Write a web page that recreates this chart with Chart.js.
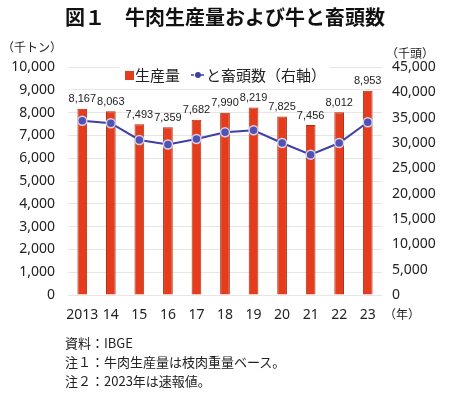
<!DOCTYPE html>
<html lang="ja">
<head>
    <meta charset="UTF-8">
    <title>牛肉生産量および牛と畜頭数</title>
    <script src="https://cdn.jsdelivr.net/npm/chart.js@4.4.1/dist/chart.umd.min.js"></script>
    <style>
        body {
            margin: 0;
            width: 450px;
            height: 397px;
            background: #ffffff;
            font-family: 'Noto Sans CJK JP', 'Noto Sans', sans-serif;
            position: relative;
            overflow: hidden;
        }
        .title {
            position: absolute;
            top: 4px;
            left: 0;
            width: 450px;
            text-align: center;
            font-size: 20px;
            font-weight: bold;
            color: #111;
            line-height: 26px;
        }
        .chart-box {
            position: absolute;
            left: 0;
            top: 0;
            width: 450px;
            height: 397px;
        }
        .notes {
            position: absolute;
            left: 65px;
            top: 333px;
            font-size: 13px;
            line-height: 19px;
            color: #222;
        }
    </style>
</head>
<body>
    <div class="chart-box"><canvas id="beefChart"></canvas></div>
    <div class="title">図１　牛肉生産量および牛と畜頭数</div>
    <div class="notes">
        <div>資料：IBGE</div>
        <div>注１：牛肉生産量は枝肉重量ベース。</div>
        <div>注２：2023年は速報値。</div>
    </div>

    <script>
        // data
        const years = ['2013', '14', '15', '16', '17', '18', '19', '20', '21', '22', '23'];
        const production = [8167, 8063, 7493, 7359, 7682, 7990, 8219, 7825, 7456, 8012, 8953];   // 千トン
        const slaughter = [34400, 33900, 30600, 29700, 30800, 32100, 32500, 30000, 27700, 30000, 34100]; // 千頭

        const leftTicks = { max: 10000, step: 1000 };
        const rightTicks = { max: 45000, step: 5000 };

        const barColor = '#e63c1e';
        const lineColor = '#3f3fa6';
        const tickFont = { family: "'Noto Sans', sans-serif", size: 14 };

        // value labels over the bars + unit captions + legend
        const extras = {
            id: 'extras',
            afterDatasetsDraw(chart) {
                const ctx = chart.ctx;
                const meta = chart.getDatasetMeta(1); // bars
                ctx.save();
                ctx.fillStyle = '#222';
                ctx.font = "11px 'Liberation Sans', sans-serif";
                ctx.textAlign = 'center';
                ctx.textBaseline = 'bottom';
                meta.data.forEach((bar, i) => {
                    ctx.fillText(production[i].toLocaleString('en-US'), bar.x, bar.y - 4);
                });
                ctx.restore();
            },
            afterDraw(chart) {
                const ctx = chart.ctx;
                ctx.save();
                ctx.fillStyle = '#222';
                ctx.font = "12px 'Noto Sans CJK JP'";
                ctx.textBaseline = 'middle';
                ctx.textAlign = 'left';
                ctx.fillText('（千トン）', 2, 47);
                ctx.fillText('（千頭）', 386, 53);
                ctx.fillText('（年）', 384, 314);

                // legend
                const ly = 75;
                ctx.fillStyle = '#ffffff';
                ctx.fillRect(120, ly - 9, 210, 18);
                ctx.fillStyle = barColor;
                ctx.fillRect(125, ly - 4, 9, 9);
                ctx.font = "15px 'Noto Sans CJK JP'";
                ctx.fillStyle = '#222';
                ctx.fillText('生産量', 135, ly);
                ctx.strokeStyle = lineColor;
                ctx.lineWidth = 1.5;
                ctx.setLineDash([3, 2]);
                ctx.beginPath();
                ctx.moveTo(191, ly);
                ctx.lineTo(205, ly);
                ctx.stroke();
                ctx.setLineDash([]);
                ctx.fillStyle = lineColor;
                ctx.beginPath();
                ctx.arc(198, ly, 3, 0, Math.PI * 2);
                ctx.fill();
                ctx.fillStyle = '#222';
                ctx.fillText('と畜頭数（右軸）', 206, ly);
                ctx.restore();
            }
        };

        new Chart(document.getElementById('beefChart'), {
            data: {
                labels: years,
                datasets: [{
                    type: 'line',
                    label: 'と畜頭数（右軸）',
                    data: slaughter,
                    yAxisID: 'y2',
                    borderColor: lineColor,
                    borderWidth: 2,
                    pointRadius: 4.5,
                    pointBackgroundColor: '#5252b4',
                    pointBorderColor: '#d4d4ea',
                    pointBorderWidth: 1.5,
                    tension: 0,
                    order: 0
                }, {
                    type: 'bar',
                    label: '生産量',
                    data: production,
                    yAxisID: 'y',
                    backgroundColor: barColor,
                    borderColor: '#a8300f',
                    borderWidth: 1,
                    categoryPercentage: 1,
                    barPercentage: 0.34,
                    order: 1
                }]
            },
            options: {
                responsive: true,
                maintainAspectRatio: false,
                animation: false,
                layout: { padding: { top: 67, bottom: 72, left: 0, right: 0 } },
                plugins: {
                    legend: { display: false },
                    tooltip: { enabled: false }
                },
                scales: {
                    x: {
                        grid: { display: false, drawTicks: false },
                        border: { display: false },
                        ticks: { color: '#222', font: tickFont, padding: 12, maxRotation: 0, autoSkip: false },
                        afterFit(s) { s.height = 30; }
                    },
                    y: {
                        position: 'left',
                        min: 0,
                        max: leftTicks.max,
                        ticks: {
                            stepSize: leftTicks.step,
                            color: '#222',
                            font: tickFont,
                            padding: 13,
                            callback: v => v.toLocaleString('en-US')
                        },
                        grid: { color: '#e6e6e6', drawTicks: false },
                        border: { display: false },
                        afterFit(s) { s.width = 68; }
                    },
                    y2: {
                        position: 'right',
                        min: 0,
                        max: rightTicks.max,
                        ticks: {
                            stepSize: rightTicks.step,
                            color: '#222',
                            font: tickFont,
                            padding: 10,
                            callback: v => v.toLocaleString('en-US')
                        },
                        grid: { display: false, drawTicks: false },
                        border: { display: false },
                        afterFit(s) { s.width = 68; }
                    }
                }
            },
            plugins: [extras]
        });
    </script>
</body>
</html>
